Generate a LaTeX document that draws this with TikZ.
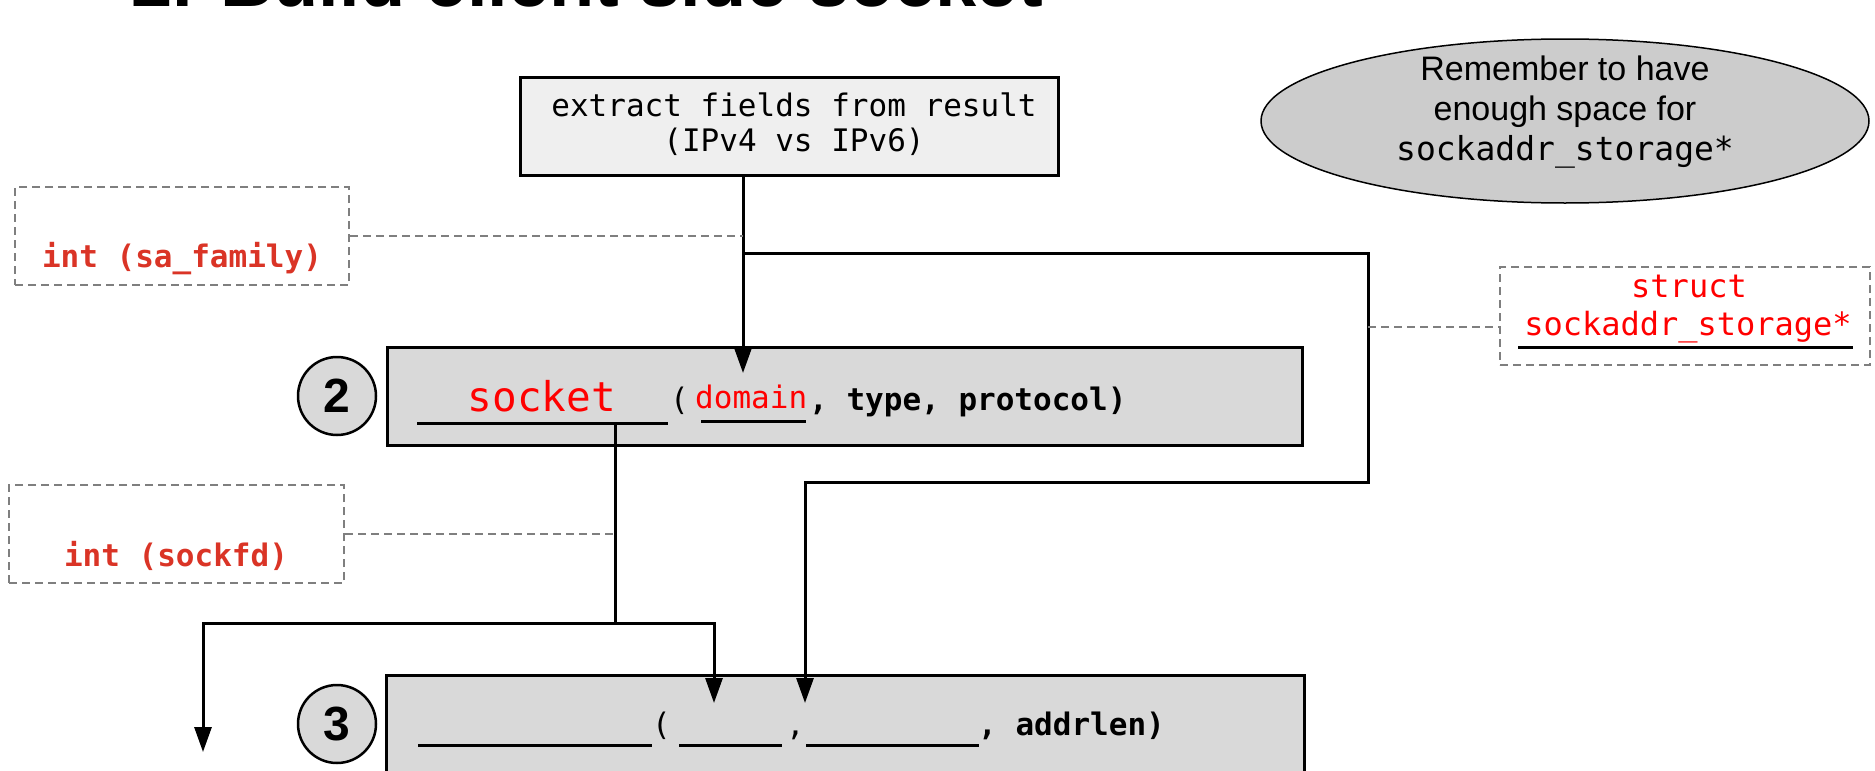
\documentclass[tikz,border=0pt]{standalone}
\usepackage{fontspec}
\setmainfont{Liberation Sans}
\setmonofont{DejaVu Sans Mono}
\usetikzlibrary{arrows.meta,shapes.geometric}
\definecolor{boxgray}{HTML}{D9D9D9}
\definecolor{topgray}{HTML}{EFEFEF}
\definecolor{ellgray}{HTML}{CCCCCC}
\definecolor{dashgray}{HTML}{7F7F7F}
\definecolor{labred}{RGB}{218,52,38}
\definecolor{purered}{HTML}{FF0000}
\begin{document}
\begin{tikzpicture}[x=1pt,y=-1pt,
  solidbox/.style={rectangle, draw=black, line width=3pt, inner sep=0pt},
  dashbox/.style={rectangle, draw=dashgray, line width=2pt, dash pattern=on 8pt off 5pt, inner sep=0pt},
  numcirc/.style={circle, draw=black, line width=2.5pt, fill=boxgray, minimum size=78pt, inner sep=0pt, font=\fontsize{48}{48}\selectfont\bfseries},
  conn/.style={draw=black, line width=3pt},
  arr/.style={conn, -{Triangle[length=25pt,width=17pt]}},
  dconn/.style={draw=dashgray, line width=2pt, dash pattern=on 8pt off 5pt},
  uline/.style={draw=black, line width=3pt},
  mono/.style={font=\fontsize{31}{33}\selectfont\ttfamily},
  monob/.style={font=\fontsize{31}{33}\selectfont\ttfamily\bfseries},
  redlab/.style={font=\fontsize{31}{33}\selectfont\ttfamily\bfseries, text=labred},
  txt/.style={inner sep=0pt}
]
\useasboundingbox (0,0) rectangle (1875,771);
\fill[white] (0,0) rectangle (1875,771);

% title (cut off at top)
\node[txt, anchor=base west, font=\fontsize{74}{74}\selectfont\bfseries] (title) at (131,6) {2. Build client side socket};

% top box
\node[solidbox, fill=topgray, minimum width=538pt, minimum height=98pt] (extract) at (789,126) {};
\node[txt, mono, anchor=base] (exl1) at (794,116) {extract fields from result};
\node[txt, mono, anchor=base] (exl2) at (794,151) {(IPv4 vs IPv6)};

% ellipse note
\node[ellipse, draw=black, line width=1.5pt, fill=ellgray, minimum width=608pt, minimum height=164pt, inner sep=0pt] (note) at (1565,121) {};
\node[txt, anchor=base, font=\fontsize{34}{34}\selectfont] (n1) at (1565,80) {Remember to have};
\node[txt, anchor=base, font=\fontsize{34}{34}\selectfont] (n2) at (1565,120) {enough space for};
\node[txt, anchor=base, font=\fontsize{33}{33}\selectfont\ttfamily] (n3) at (1565,160) {sockaddr\_storage*};

% dashed label boxes
\node[dashbox, minimum width=334pt, minimum height=98pt] (safam) at (182,236) {};
\node[txt, redlab, anchor=base] (safamtxt) at (182,267) {int (sa\_family)};
\node[dashbox, minimum width=335pt, minimum height=98pt] (fdbox) at (176.5,534) {};
\node[txt, redlab, anchor=base] (fdtxt) at (176,566) {int (sockfd)};
\node[dashbox, minimum width=370pt, minimum height=98pt] (structbox) at (1685,316) {};
\node[txt, anchor=base, font=\fontsize{32}{32}\selectfont\ttfamily, text=purered] (st1) at (1689,297) {struct};
\node[txt, anchor=base, font=\fontsize{32}{32}\selectfont\ttfamily, text=purered] (st2) at (1688,335) {sockaddr\_storage*};
\draw[uline] (1518,347) -- (1853,347);

% step 2 box
\node[solidbox, fill=boxgray, minimum width=915pt, minimum height=98pt] (sock) at (844.5,396) {};
\node[numcirc] (c2) at (337,396) {2};
\node[txt, anchor=base, font=\fontsize{41}{41}\selectfont\ttfamily, text=purered] (socketname) at (542,411) {socket};
\draw[uline] (417,423) -- (668,423);
\node[txt, mono, anchor=base west] (p2open) at (670,410) {(};
\node[txt, mono, anchor=base west, text=purered] (domain) at (695,408) {domain};
\draw[uline] (701,421) -- (806,421);
\node[txt, monob, anchor=base west] (p2rest) at (809,410) {, type, protocol)};

% step 3 box
\node[solidbox, fill=boxgray, minimum width=918pt, minimum height=98pt] (bind) at (845,724) {};
\node[numcirc] (c3) at (337,724) {3};
\draw[uline] (418,745) -- (652,745);
\node[txt, mono, anchor=base west] (p3open) at (652,735) {(};
\draw[uline] (679,745) -- (782,745);
\node[txt, mono, anchor=base west] (p3comma) at (786,735) {,};
\draw[uline] (806,745) -- (979,745);
\node[txt, monob, anchor=base west] (p3rest) at (978,735) {, addrlen)};

% connectors
\coordinate (domtip) at (743,373);
\coordinate (j1) at (743,253);
\coordinate (bend1) at (1368,482);
\coordinate (addrtip) at (805,703);
\coordinate (sockout) at (615,423);
\coordinate (sockj) at (615,623);
\coordinate (fdtip) at (714,703);
\coordinate (lefttip) at (203,752);

\draw[arr] (extract.south -| domtip) -- (domtip);
\draw[arr] (j1) -| (bend1) -| (addrtip);
\draw[conn] (sockout) -- (sockj);
\draw[arr] (sockj) -| (fdtip);
\draw[arr] (sockj) -| (lefttip);

% dashed connectors
\draw[dconn] (safam.east) -- (safam.east -| domtip);
\draw[dconn] (fdbox.east) -- (fdbox.east -| sockout);
\draw[dconn] ([yshift=-11pt]structbox.west -| bend1) -- ([yshift=-11pt]structbox.west);
\end{tikzpicture}
\end{document}
